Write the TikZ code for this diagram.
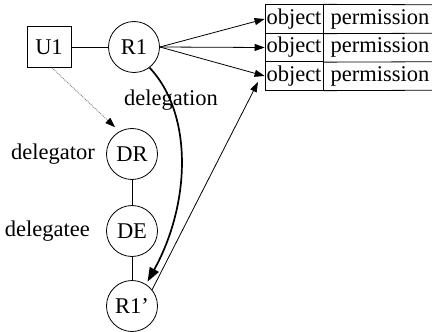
\documentclass[tikz,border=0pt]{standalone}
\usepackage{fontspec}
\setmainfont{Liberation Serif}
\usetikzlibrary{arrows.meta}
\begin{document}
\begin{tikzpicture}[x=1pt,y=-1pt,
  every node/.style={font=\fontsize{22.5}{24}\selectfont},
  rolec/.style={draw,circle,minimum size=51pt,inner sep=0pt,line width=0.8pt},
  userbox/.style={draw,rectangle,minimum width=44pt,minimum height=41pt,inner sep=0pt,line width=0.8pt},
  objcell/.style={draw,rectangle,minimum width=58pt,minimum height=28.5pt,inner sep=0pt,line width=0.8pt},
  permcell/.style={rectangle,inner sep=0pt},
  lbl/.style={inner sep=0pt},
  thin/.style={line width=0.8pt},
  arr/.style={line width=0.8pt,-{Triangle[length=10pt,width=7pt]}},
  bigarr/.style={line width=1.7pt,-{Triangle[length=14pt,width=10pt]}},
  dotarr/.style={line width=0.9pt,gray,densely dotted,-{Triangle[length=10pt,width=7pt,color=black]}}
]
\useasboundingbox (0,0) rectangle (432,332);
% nodes
\node[userbox] (U1) at (49,47) {U1};
\node[rolec] (R1) at (134,47) {R1};
\node[rolec] (DR) at (132,154) {DR};
\node[rolec] (DE) at (132,231) {DE};
\node[rolec] (R1p) at (132,306) {R1’};
\node[lbl,anchor=east] (lr) at (95,154) {delegator};
\node[lbl,anchor=east] (le) at (90,231) {delegatee};
\node[lbl] (ldel) at (171,100) {delegation};
% table
\node[objcell] (o1) at (294,19) {object};
\node[objcell] (o2) at (294,47.5) {object};
\node[objcell] (o3) at (294,76) {object};
\node[permcell] (p1) at (380,19) {permission};
\node[permcell] (p2) at (380,47.5) {permission};
\node[permcell] (p3) at (380,76) {permission};
\draw[thin] (o1.north east) -- (432,4.75);
\draw[thin] (o1.south east) -- (432,33.25);
\draw[thin] (o2.south east) -- (432,61.75);
\draw[thin] (o3.south east) -- (432,90.25);
\coordinate (t3) at (258,82);
% connectors
\draw[thin] (U1) -- (R1);
\draw[thin] (DR) -- (DE);
\draw[thin] (DE) -- (R1p);
\draw[arr] (R1.east) -- (o1.west);
\draw[arr] (R1.east) -- (o2.west);
\draw[arr] (R1.east) -- (o3.west);
\draw[arr] (R1p.39) -- (t3);
\draw[dotarr,shorten >=6pt] (U1.-82) -- (DR.119);
\draw[bigarr,shorten >=3pt] (R1.-53) .. controls (194,115) and (190,205) .. (R1p.57);
\end{tikzpicture}
\end{document}
